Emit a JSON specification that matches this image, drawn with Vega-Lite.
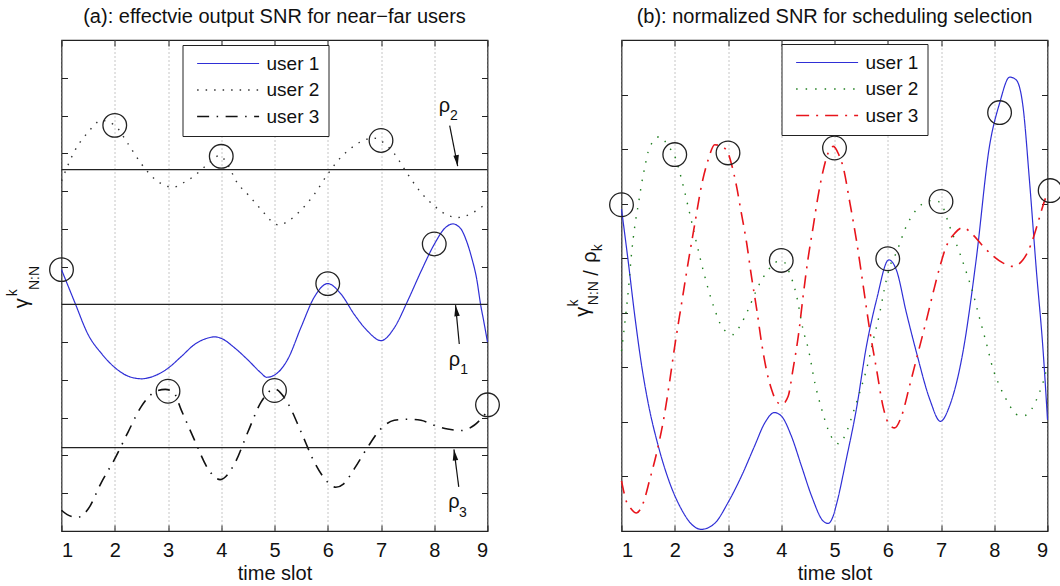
{
  "$schema": "https://vega.github.io/schema/vega-lite/v6.json",
  "padding": {"left": 4.5, "top": 5, "right": 4, "bottom": 0},
  "bounds": "flush",
  "spacing": 134,
  "config": {
    "font": "Liberation Sans",
    "view": {"stroke": "#222", "strokeWidth": 1.2},
    "title": {"font": "Liberation Sans", "fontSize": 20, "fontWeight": "normal", "color": "#111", "offset": 13},
    "axis": {"labelFont": "Liberation Sans", "titleFont": "Liberation Sans"},
    "legend": {"labelFont": "Liberation Sans"},
    "text": {"font": "Liberation Sans", "color": "#111"}
  },
  "datasets": {
    "snrA": [
      {"user": "user 1", "slot": 1, "snr": 6.92}, {"user": "user 1", "slot": 1.25, "snr": 6.05}, {"user": "user 1", "slot": 1.5, "snr": 5.2}, {"user": "user 1", "slot": 1.75, "snr": 4.7}, {"user": "user 1", "slot": 2, "snr": 4.33}, {"user": "user 1", "slot": 2.25, "snr": 4.1}, {"user": "user 1", "slot": 2.5, "snr": 4.03}, {"user": "user 1", "slot": 2.75, "snr": 4.11}, {"user": "user 1", "slot": 3, "snr": 4.31}, {"user": "user 1", "slot": 3.25, "snr": 4.62}, {"user": "user 1", "slot": 3.5, "snr": 4.94}, {"user": "user 1", "slot": 3.75, "snr": 5.11}, {"user": "user 1", "slot": 3.88, "snr": 5.14}, {"user": "user 1", "slot": 4, "snr": 5.1}, {"user": "user 1", "slot": 4.25, "snr": 4.85}, {"user": "user 1", "slot": 4.5, "snr": 4.53}, {"user": "user 1", "slot": 4.75, "snr": 4.18}, {"user": "user 1", "slot": 4.85, "snr": 4.07}, {"user": "user 1", "slot": 5, "snr": 4.13}, {"user": "user 1", "slot": 5.25, "snr": 4.55}, {"user": "user 1", "slot": 5.5, "snr": 5.4}, {"user": "user 1", "slot": 5.75, "snr": 6.2}, {"user": "user 1", "slot": 6, "snr": 6.55}, {"user": "user 1", "slot": 6.25, "snr": 6.27}, {"user": "user 1", "slot": 6.5, "snr": 5.73}, {"user": "user 1", "slot": 6.75, "snr": 5.29}, {"user": "user 1", "slot": 7, "snr": 5.04}, {"user": "user 1", "slot": 7.25, "snr": 5.38}, {"user": "user 1", "slot": 7.5, "snr": 6.09}, {"user": "user 1", "slot": 7.75, "snr": 6.87}, {"user": "user 1", "slot": 8, "snr": 7.59}, {"user": "user 1", "slot": 8.2, "snr": 8.02}, {"user": "user 1", "slot": 8.35, "snr": 8.13}, {"user": "user 1", "slot": 8.5, "snr": 8.0}, {"user": "user 1", "slot": 8.6, "snr": 7.7}, {"user": "user 1", "slot": 8.7, "snr": 7.25}, {"user": "user 1", "slot": 8.8, "snr": 6.65}, {"user": "user 1", "slot": 8.87, "snr": 6.0}, {"user": "user 1", "slot": 8.93, "snr": 5.55}, {"user": "user 1", "slot": 9, "snr": 5.0},
      {"user": "user 2", "slot": 1, "snr": 9.27}, {"user": "user 2", "slot": 1.25, "snr": 10.07}, {"user": "user 2", "slot": 1.5, "snr": 10.56}, {"user": "user 2", "slot": 1.75, "snr": 10.87}, {"user": "user 2", "slot": 2, "snr": 10.74}, {"user": "user 2", "slot": 2.25, "snr": 10.25}, {"user": "user 2", "slot": 2.5, "snr": 9.72}, {"user": "user 2", "slot": 2.75, "snr": 9.32}, {"user": "user 2", "slot": 3, "snr": 9.12}, {"user": "user 2", "slot": 3.1, "snr": 9.1}, {"user": "user 2", "slot": 3.25, "snr": 9.19}, {"user": "user 2", "slot": 3.5, "snr": 9.41}, {"user": "user 2", "slot": 3.75, "snr": 9.72}, {"user": "user 2", "slot": 3.97, "snr": 9.94}, {"user": "user 2", "slot": 4.1, "snr": 9.75}, {"user": "user 2", "slot": 4.3, "snr": 9.22}, {"user": "user 2", "slot": 4.5, "snr": 8.91}, {"user": "user 2", "slot": 4.75, "snr": 8.51}, {"user": "user 2", "slot": 5, "snr": 8.14}, {"user": "user 2", "slot": 5.08, "snr": 8.1}, {"user": "user 2", "slot": 5.25, "snr": 8.2}, {"user": "user 2", "slot": 5.5, "snr": 8.5}, {"user": "user 2", "slot": 5.75, "snr": 8.92}, {"user": "user 2", "slot": 6, "snr": 9.45}, {"user": "user 2", "slot": 6.25, "snr": 9.9}, {"user": "user 2", "slot": 6.5, "snr": 10.2}, {"user": "user 2", "slot": 6.75, "snr": 10.38}, {"user": "user 2", "slot": 6.88, "snr": 10.4}, {"user": "user 2", "slot": 7, "snr": 10.33}, {"user": "user 2", "slot": 7.25, "snr": 9.99}, {"user": "user 2", "slot": 7.5, "snr": 9.45}, {"user": "user 2", "slot": 7.75, "snr": 8.96}, {"user": "user 2", "slot": 8, "snr": 8.61}, {"user": "user 2", "slot": 8.25, "snr": 8.36}, {"user": "user 2", "slot": 8.45, "snr": 8.3}, {"user": "user 2", "slot": 8.75, "snr": 8.45}, {"user": "user 2", "slot": 9, "snr": 8.7},
      {"user": "user 3", "slot": 1, "snr": 0.55}, {"user": "user 3", "slot": 1.1, "snr": 0.44}, {"user": "user 3", "slot": 1.3, "snr": 0.36}, {"user": "user 3", "slot": 1.5, "snr": 0.58}, {"user": "user 3", "slot": 1.75, "snr": 1.29}, {"user": "user 3", "slot": 2, "snr": 1.91}, {"user": "user 3", "slot": 2.25, "snr": 2.62}, {"user": "user 3", "slot": 2.5, "snr": 3.3}, {"user": "user 3", "slot": 2.75, "snr": 3.68}, {"user": "user 3", "slot": 2.95, "snr": 3.75}, {"user": "user 3", "slot": 3.1, "snr": 3.68}, {"user": "user 3", "slot": 3.25, "snr": 3.2}, {"user": "user 3", "slot": 3.5, "snr": 2.4}, {"user": "user 3", "slot": 3.75, "snr": 1.65}, {"user": "user 3", "slot": 3.98, "snr": 1.36}, {"user": "user 3", "slot": 4.25, "snr": 1.78}, {"user": "user 3", "slot": 4.5, "snr": 2.62}, {"user": "user 3", "slot": 4.75, "snr": 3.42}, {"user": "user 3", "slot": 5, "snr": 3.76}, {"user": "user 3", "slot": 5.25, "snr": 3.38}, {"user": "user 3", "slot": 5.5, "snr": 2.62}, {"user": "user 3", "slot": 5.75, "snr": 1.82}, {"user": "user 3", "slot": 6, "snr": 1.29}, {"user": "user 3", "slot": 6.15, "snr": 1.16}, {"user": "user 3", "slot": 6.3, "snr": 1.25}, {"user": "user 3", "slot": 6.5, "snr": 1.65}, {"user": "user 3", "slot": 6.75, "snr": 2.22}, {"user": "user 3", "slot": 7, "snr": 2.71}, {"user": "user 3", "slot": 7.25, "snr": 2.93}, {"user": "user 3", "slot": 7.5, "snr": 2.96}, {"user": "user 3", "slot": 7.75, "snr": 2.93}, {"user": "user 3", "slot": 8, "snr": 2.8}, {"user": "user 3", "slot": 8.25, "snr": 2.7}, {"user": "user 3", "slot": 8.5, "snr": 2.66}, {"user": "user 3", "slot": 8.75, "snr": 2.8}, {"user": "user 3", "slot": 9, "snr": 3.17}
    ],
    "snrB": [
      {"user": "user 1", "slot": 1, "snr": 5.9}, {"user": "user 1", "slot": 1.13, "snr": 4.91}, {"user": "user 1", "slot": 1.25, "snr": 3.94}, {"user": "user 1", "slot": 1.38, "snr": 3.02}, {"user": "user 1", "slot": 1.5, "snr": 2.35}, {"user": "user 1", "slot": 1.69, "snr": 1.56}, {"user": "user 1", "slot": 1.88, "snr": 0.95}, {"user": "user 1", "slot": 2.13, "snr": 0.39}, {"user": "user 1", "slot": 2.32, "snr": 0.12}, {"user": "user 1", "slot": 2.5, "snr": 0.03}, {"user": "user 1", "slot": 2.75, "snr": 0.14}, {"user": "user 1", "slot": 3, "snr": 0.52}, {"user": "user 1", "slot": 3.25, "snr": 1.0}, {"user": "user 1", "slot": 3.5, "snr": 1.56}, {"user": "user 1", "slot": 3.69, "snr": 1.98}, {"user": "user 1", "slot": 3.87, "snr": 2.17}, {"user": "user 1", "slot": 4, "snr": 2.11}, {"user": "user 1", "slot": 4.19, "snr": 1.74}, {"user": "user 1", "slot": 4.38, "snr": 1.19}, {"user": "user 1", "slot": 4.57, "snr": 0.64}, {"user": "user 1", "slot": 4.79, "snr": 0.18}, {"user": "user 1", "slot": 4.88, "snr": 0.14}, {"user": "user 1", "slot": 4.97, "snr": 0.26}, {"user": "user 1", "slot": 5.04, "snr": 0.5}, {"user": "user 1", "slot": 5.22, "snr": 1.31}, {"user": "user 1", "slot": 5.41, "snr": 2.23}, {"user": "user 1", "slot": 5.6, "snr": 3.39}, {"user": "user 1", "slot": 5.79, "snr": 4.24}, {"user": "user 1", "slot": 6.02, "snr": 4.97}, {"user": "user 1", "slot": 6.16, "snr": 4.79}, {"user": "user 1", "slot": 6.35, "snr": 4.0}, {"user": "user 1", "slot": 6.54, "snr": 3.27}, {"user": "user 1", "slot": 6.79, "snr": 2.41}, {"user": "user 1", "slot": 6.99, "snr": 2.01}, {"user": "user 1", "slot": 7.16, "snr": 2.29}, {"user": "user 1", "slot": 7.41, "snr": 3.27}, {"user": "user 1", "slot": 7.66, "snr": 4.97}, {"user": "user 1", "slot": 7.91, "snr": 7.05}, {"user": "user 1", "slot": 8.1, "snr": 7.84}, {"user": "user 1", "slot": 8.29, "snr": 8.32}, {"user": "user 1", "slot": 8.41, "snr": 8.27}, {"user": "user 1", "slot": 8.54, "snr": 7.78}, {"user": "user 1", "slot": 8.66, "snr": 6.44}, {"user": "user 1", "slot": 8.79, "snr": 4.79}, {"user": "user 1", "slot": 8.92, "snr": 3.27}, {"user": "user 1", "slot": 9, "snr": 2.04},
      {"user": "user 2", "slot": 1, "snr": 3.3}, {"user": "user 2", "slot": 1.07, "snr": 3.88}, {"user": "user 2", "slot": 1.13, "snr": 4.43}, {"user": "user 2", "slot": 1.19, "snr": 5.1}, {"user": "user 2", "slot": 1.25, "snr": 5.59}, {"user": "user 2", "slot": 1.32, "snr": 6.01}, {"user": "user 2", "slot": 1.38, "snr": 6.38}, {"user": "user 2", "slot": 1.44, "snr": 6.68}, {"user": "user 2", "slot": 1.5, "snr": 6.95}, {"user": "user 2", "slot": 1.6, "snr": 7.15}, {"user": "user 2", "slot": 1.72, "snr": 7.23}, {"user": "user 2", "slot": 1.88, "snr": 7.05}, {"user": "user 2", "slot": 2, "snr": 6.87}, {"user": "user 2", "slot": 2.13, "snr": 6.44}, {"user": "user 2", "slot": 2.25, "snr": 5.95}, {"user": "user 2", "slot": 2.38, "snr": 5.4}, {"user": "user 2", "slot": 2.5, "snr": 4.91}, {"user": "user 2", "slot": 2.63, "snr": 4.43}, {"user": "user 2", "slot": 2.75, "snr": 4.06}, {"user": "user 2", "slot": 2.88, "snr": 3.75}, {"user": "user 2", "slot": 3, "snr": 3.63}, {"user": "user 2", "slot": 3.1, "snr": 3.6}, {"user": "user 2", "slot": 3.22, "snr": 3.75}, {"user": "user 2", "slot": 3.38, "snr": 4.06}, {"user": "user 2", "slot": 3.57, "snr": 4.49}, {"user": "user 2", "slot": 3.76, "snr": 4.79}, {"user": "user 2", "slot": 3.94, "snr": 4.94}, {"user": "user 2", "slot": 4.04, "snr": 4.94}, {"user": "user 2", "slot": 4.13, "snr": 4.79}, {"user": "user 2", "slot": 4.29, "snr": 4.3}, {"user": "user 2", "slot": 4.41, "snr": 3.69}, {"user": "user 2", "slot": 4.51, "snr": 3.33}, {"user": "user 2", "slot": 4.63, "snr": 2.72}, {"user": "user 2", "slot": 4.76, "snr": 2.23}, {"user": "user 2", "slot": 4.88, "snr": 1.86}, {"user": "user 2", "slot": 4.97, "snr": 1.68}, {"user": "user 2", "slot": 5.08, "snr": 1.6}, {"user": "user 2", "slot": 5.22, "snr": 1.8}, {"user": "user 2", "slot": 5.35, "snr": 2.17}, {"user": "user 2", "slot": 5.47, "snr": 2.53}, {"user": "user 2", "slot": 5.6, "snr": 2.96}, {"user": "user 2", "slot": 5.73, "snr": 3.51}, {"user": "user 2", "slot": 5.85, "snr": 4.0}, {"user": "user 2", "slot": 5.94, "snr": 4.45}, {"user": "user 2", "slot": 6.04, "snr": 4.85}, {"user": "user 2", "slot": 6.16, "snr": 5.1}, {"user": "user 2", "slot": 6.35, "snr": 5.59}, {"user": "user 2", "slot": 6.54, "snr": 5.89}, {"user": "user 2", "slot": 6.73, "snr": 6.04}, {"user": "user 2", "slot": 6.88, "snr": 6.06}, {"user": "user 2", "slot": 7, "snr": 6.0}, {"user": "user 2", "slot": 7.16, "snr": 5.59}, {"user": "user 2", "slot": 7.35, "snr": 5.1}, {"user": "user 2", "slot": 7.48, "snr": 4.73}, {"user": "user 2", "slot": 7.6, "snr": 4.36}, {"user": "user 2", "slot": 7.73, "snr": 3.88}, {"user": "user 2", "slot": 7.85, "snr": 3.45}, {"user": "user 2", "slot": 7.98, "snr": 2.96}, {"user": "user 2", "slot": 8.1, "snr": 2.66}, {"user": "user 2", "slot": 8.26, "snr": 2.35}, {"user": "user 2", "slot": 8.41, "snr": 2.14}, {"user": "user 2", "slot": 8.54, "snr": 2.11}, {"user": "user 2", "slot": 8.7, "snr": 2.23}, {"user": "user 2", "slot": 8.82, "snr": 2.47}, {"user": "user 2", "slot": 8.95, "snr": 2.84}, {"user": "user 2", "slot": 9, "snr": 3.05},
      {"user": "user 3", "slot": 1, "snr": 0.92}, {"user": "user 3", "slot": 1.1, "snr": 0.52}, {"user": "user 3", "slot": 1.16, "snr": 0.43}, {"user": "user 3", "slot": 1.28, "snr": 0.33}, {"user": "user 3", "slot": 1.41, "snr": 0.52}, {"user": "user 3", "slot": 1.53, "snr": 0.94}, {"user": "user 3", "slot": 1.66, "snr": 1.43}, {"user": "user 3", "slot": 1.79, "snr": 2.04}, {"user": "user 3", "slot": 1.91, "snr": 2.78}, {"user": "user 3", "slot": 2, "snr": 3.39}, {"user": "user 3", "slot": 2.13, "snr": 4.18}, {"user": "user 3", "slot": 2.25, "snr": 4.91}, {"user": "user 3", "slot": 2.38, "snr": 5.65}, {"user": "user 3", "slot": 2.5, "snr": 6.32}, {"user": "user 3", "slot": 2.63, "snr": 6.81}, {"user": "user 3", "slot": 2.75, "snr": 7.08}, {"user": "user 3", "slot": 2.88, "snr": 7.05}, {"user": "user 3", "slot": 3, "snr": 6.93}, {"user": "user 3", "slot": 3.07, "snr": 6.71}, {"user": "user 3", "slot": 3.16, "snr": 6.32}, {"user": "user 3", "slot": 3.25, "snr": 5.83}, {"user": "user 3", "slot": 3.35, "snr": 5.28}, {"user": "user 3", "slot": 3.44, "snr": 4.67}, {"user": "user 3", "slot": 3.54, "snr": 4.06}, {"user": "user 3", "slot": 3.63, "snr": 3.45}, {"user": "user 3", "slot": 3.72, "snr": 2.96}, {"user": "user 3", "slot": 3.82, "snr": 2.59}, {"user": "user 3", "slot": 3.91, "snr": 2.38}, {"user": "user 3", "slot": 4.01, "snr": 2.32}, {"user": "user 3", "slot": 4.13, "snr": 2.47}, {"user": "user 3", "slot": 4.22, "snr": 2.96}, {"user": "user 3", "slot": 4.32, "snr": 3.57}, {"user": "user 3", "slot": 4.41, "snr": 4.3}, {"user": "user 3", "slot": 4.5, "snr": 4.97}, {"user": "user 3", "slot": 4.6, "snr": 5.58}, {"user": "user 3", "slot": 4.69, "snr": 6.13}, {"user": "user 3", "slot": 4.79, "snr": 6.62}, {"user": "user 3", "slot": 4.88, "snr": 6.93}, {"user": "user 3", "slot": 4.98, "snr": 7.05}, {"user": "user 3", "slot": 5.08, "snr": 6.9}, {"user": "user 3", "slot": 5.16, "snr": 6.68}, {"user": "user 3", "slot": 5.29, "snr": 6.01}, {"user": "user 3", "slot": 5.41, "snr": 5.34}, {"user": "user 3", "slot": 5.54, "snr": 4.49}, {"user": "user 3", "slot": 5.66, "snr": 3.69}, {"user": "user 3", "slot": 5.79, "snr": 2.96}, {"user": "user 3", "slot": 5.91, "snr": 2.29}, {"user": "user 3", "slot": 6.01, "snr": 1.98}, {"user": "user 3", "slot": 6.13, "snr": 1.89}, {"user": "user 3", "slot": 6.26, "snr": 2.11}, {"user": "user 3", "slot": 6.41, "snr": 2.66}, {"user": "user 3", "slot": 6.57, "snr": 3.27}, {"user": "user 3", "slot": 6.73, "snr": 3.88}, {"user": "user 3", "slot": 6.85, "snr": 4.36}, {"user": "user 3", "slot": 6.98, "snr": 4.85}, {"user": "user 3", "slot": 7.1, "snr": 5.22}, {"user": "user 3", "slot": 7.26, "snr": 5.46}, {"user": "user 3", "slot": 7.41, "snr": 5.56}, {"user": "user 3", "slot": 7.6, "snr": 5.43}, {"user": "user 3", "slot": 7.79, "snr": 5.22}, {"user": "user 3", "slot": 7.98, "snr": 5.04}, {"user": "user 3", "slot": 8.17, "snr": 4.91}, {"user": "user 3", "slot": 8.35, "snr": 4.85}, {"user": "user 3", "slot": 8.54, "snr": 4.97}, {"user": "user 3", "slot": 8.7, "snr": 5.28}, {"user": "user 3", "slot": 8.82, "snr": 5.65}, {"user": "user 3", "slot": 8.91, "snr": 5.95}, {"user": "user 3", "slot": 9, "snr": 6.2}
    ],
    "rhoA": [{"rho": "ρ1", "level": 6.0}, {"rho": "ρ2", "level": 9.57}, {"rho": "ρ3", "level": 2.21}],
    "pickA": [{"slot": 1, "snr": 6.92}, {"slot": 2, "snr": 10.74}, {"slot": 3, "snr": 3.7}, {"slot": 4, "snr": 9.92}, {"slot": 5, "snr": 3.72}, {"slot": 6, "snr": 6.55}, {"slot": 7, "snr": 10.34}, {"slot": 8, "snr": 7.6}, {"slot": 9, "snr": 3.34}],
    "pickB": [{"slot": 1, "snr": 5.98}, {"slot": 2, "snr": 6.9}, {"slot": 3, "snr": 6.93}, {"slot": 4, "snr": 4.96}, {"slot": 5, "snr": 7.02}, {"slot": 6, "snr": 4.99}, {"slot": 7, "snr": 6.04}, {"slot": 8.1, "snr": 7.67}, {"slot": 9.05, "snr": 6.24}],
    "arrowsA": [
      {"rho": "ρ2", "way": "down", "slot": 8.29, "snr": 10.73, "slot2": 8.44, "snr2": 9.66},
      {"rho": "ρ1", "way": "up", "slot": 8.47, "snr": 4.95, "slot2": 8.4, "snr2": 5.98},
      {"rho": "ρ3", "way": "up", "slot": 8.46, "snr": 1.17, "slot2": 8.37, "snr2": 2.16}
    ],
    "notesA": [
      {"role": "rho", "text": "ρ", "slot": 8.19, "snr": 11.26},
      {"role": "rho", "text": "ρ", "slot": 8.38, "snr": 4.52},
      {"role": "rho", "text": "ρ", "slot": 8.37, "snr": 0.76},
      {"role": "sub", "text": "2", "slot": 8.37, "snr": 10.98},
      {"role": "sub", "text": "1", "slot": 8.56, "snr": 4.25},
      {"role": "sub", "text": "3", "slot": 8.54, "snr": 0.48},
      {"role": "label", "text": "γ", "slot": 0.26, "snr": 6.03},
      {"role": "script", "text": "k", "slot": 0.086, "snr": 6.31},
      {"role": "script", "text": "N:N", "slot": 0.493, "snr": 6.7}
    ],
    "notesB": [
      {"role": "label", "text": "γ", "slot": 0.28, "snr": 4.02},
      {"role": "script", "text": "k", "slot": 0.109, "snr": 4.18},
      {"role": "script", "text": "N:N", "slot": 0.484, "snr": 4.36},
      {"role": "label", "text": "/", "slot": 0.441, "snr": 4.73},
      {"role": "label", "text": "ρ", "slot": 0.4, "snr": 5.02},
      {"role": "script", "text": "k", "slot": 0.559, "snr": 5.19}
    ]
  },
  "resolve": {"scale": {"x": "independent", "y": "independent", "color": "independent", "strokeDash": "independent", "strokeWidth": "independent", "shape": "independent"}},
  "hconcat": [
    {
      "width": 426,
      "height": 491,
      "title": {"text": "(a): effectvie output SNR for near−far users"},
      "resolve": {"axis": {"x": "independent", "y": "independent"}},
      "layer": [
        {
          "data": {"name": "snrA"},
          "mark": {"type": "line", "interpolate": "monotone"},
          "encoding": {
            "x": {"field": "slot", "type": "quantitative", "scale": {"domain": [1, 9], "nice": false, "zero": false},
              "axis": {"orient": "bottom", "values": [1, 2, 3, 4, 5, 6, 7, 8, 9], "format": "d", "labelFontSize": 20, "labelColor": "#111", "labelPadding": 15, "tickSize": -6, "tickColor": "#222", "domain": false, "grid": true, "gridDash": [1, 3], "gridColor": "#8c8c8c", "title": "time slot", "titleFontSize": 20, "titleFontWeight": "normal", "titleColor": "#111", "titlePadding": 3}},
            "y": {"field": "snr", "type": "quantitative", "scale": {"domain": [0, 13], "nice": false, "zero": false},
              "axis": {"orient": "left", "values": [1, 2, 3, 4, 5, 6, 7, 8, 9, 10, 11, 12], "labels": false, "tickSize": -6, "tickColor": "#222", "domain": false, "grid": false, "title": null}},
            "color": {"field": "user", "type": "nominal", "scale": {"domain": ["user 1", "user 2", "user 3"], "range": ["#2f2fd6", "#333333", "#111111"]},
              "legend": {"orient": "none", "legendX": 121, "legendY": 5, "title": null, "symbolType": "M-0.5,0H7.5", "symbolSize": 240, "labelOffset": 56, "labelFontSize": 19, "labelColor": "#111", "padding": 9, "rowPadding": 6.5, "fillColor": "#ffffff", "strokeColor": "#222"}},
            "strokeDash": {"field": "user", "type": "nominal", "scale": {"domain": ["user 1", "user 2", "user 3"], "range": [[1, 0], [1.5, 7], [12, 7.5, 1.5, 7.5]]},
              "legend": {"orient": "none", "legendX": 121, "legendY": 5, "title": null, "symbolType": "M-0.5,0H7.5", "symbolSize": 240, "labelOffset": 56, "labelFontSize": 19, "labelColor": "#111", "padding": 9, "rowPadding": 6.5, "fillColor": "#ffffff", "strokeColor": "#222"}},
            "strokeWidth": {"field": "user", "type": "ordinal", "scale": {"domain": ["user 1", "user 2", "user 3"], "range": [1.2, 1.6, 2]},
              "legend": {"orient": "none", "legendX": 121, "legendY": 5, "title": null, "symbolType": "M-0.5,0H7.5", "symbolSize": 240, "labelOffset": 56, "labelFontSize": 19, "labelColor": "#111", "padding": 9, "rowPadding": 6.5, "fillColor": "#ffffff", "strokeColor": "#222"}}
          }
        },
        {
          "data": {"name": "rhoA"},
          "mark": {"type": "rule", "color": "#222", "strokeWidth": 1.2},
          "encoding": {
            "y": {"field": "level", "type": "quantitative", "scale": {"domain": [0, 13], "nice": false, "zero": false}, "axis": null}
          }
        },
        {
          "data": {"name": "pickA"},
          "mark": {"type": "point", "shape": "circle", "filled": false, "size": 560, "color": "#222", "strokeWidth": 1.3, "opacity": 1},
          "encoding": {
            "x": {"field": "slot", "type": "quantitative", "scale": {"domain": [1, 9], "nice": false, "zero": false},
              "axis": {"orient": "top", "values": [1, 2, 3, 4, 5, 6, 7, 8, 9], "labels": false, "tickSize": -6, "tickColor": "#222", "domain": false, "grid": false, "title": null}},
            "y": {"field": "snr", "type": "quantitative", "scale": {"domain": [0, 13], "nice": false, "zero": false},
              "axis": {"orient": "right", "values": [1, 2, 3, 4, 5, 6, 7, 8, 9, 10, 11, 12], "labels": false, "tickSize": -6, "tickColor": "#222", "domain": false, "grid": false, "title": null}}
          }
        },
        {
          "data": {"name": "arrowsA"},
          "mark": {"type": "rule", "color": "#111", "strokeWidth": 1.2},
          "encoding": {
            "x": {"field": "slot", "type": "quantitative", "scale": {"domain": [1, 9], "nice": false, "zero": false}, "axis": null},
            "y": {"field": "snr", "type": "quantitative", "scale": {"domain": [0, 13], "nice": false, "zero": false}, "axis": null},
            "x2": {"field": "slot2"},
            "y2": {"field": "snr2"}
          }
        },
        {
          "data": {"name": "arrowsA"},
          "mark": {"type": "point", "filled": true, "color": "#111", "size": 121, "angle": -8, "opacity": 1},
          "encoding": {
            "x": {"field": "slot2", "type": "quantitative", "scale": {"domain": [1, 9], "nice": false, "zero": false}, "axis": null},
            "y": {"field": "snr2", "type": "quantitative", "scale": {"domain": [0, 13], "nice": false, "zero": false}, "axis": null},
            "shape": {"field": "way", "type": "nominal", "scale": {"domain": ["down", "up"], "range": ["M-0.5,-2L0.5,-2L0,0Z", "M-0.5,2L0.5,2L0,0Z"]}, "legend": null}
          }
        },
        {
          "data": {"name": "notesA"},
          "transform": [{"filter": "datum.role === 'rho'"}],
          "mark": {"type": "text", "fontSize": 20, "align": "center", "baseline": "middle"},
          "encoding": {
            "x": {"field": "slot", "type": "quantitative", "scale": {"domain": [1, 9], "nice": false, "zero": false}, "axis": null},
            "y": {"field": "snr", "type": "quantitative", "scale": {"domain": [0, 13], "nice": false, "zero": false}, "axis": null},
            "text": {"field": "text"}
          }
        },
        {
          "data": {"name": "notesA"},
          "transform": [{"filter": "datum.role === 'sub'"}],
          "mark": {"type": "text", "fontSize": 14, "align": "center", "baseline": "middle"},
          "encoding": {
            "x": {"field": "slot", "type": "quantitative", "scale": {"domain": [1, 9], "nice": false, "zero": false}, "axis": null},
            "y": {"field": "snr", "type": "quantitative", "scale": {"domain": [0, 13], "nice": false, "zero": false}, "axis": null},
            "text": {"field": "text"}
          }
        },
        {
          "data": {"name": "notesA"},
          "transform": [{"filter": "datum.role === 'label'"}],
          "mark": {"type": "text", "fontSize": 20, "angle": 270, "align": "center", "baseline": "middle"},
          "encoding": {
            "x": {"field": "slot", "type": "quantitative", "scale": {"domain": [1, 9], "nice": false, "zero": false}, "axis": null},
            "y": {"field": "snr", "type": "quantitative", "scale": {"domain": [0, 13], "nice": false, "zero": false}, "axis": null},
            "text": {"field": "text"}
          }
        },
        {
          "data": {"name": "notesA"},
          "transform": [{"filter": "datum.role === 'script'"}],
          "mark": {"type": "text", "fontSize": 14, "angle": 270, "align": "center", "baseline": "middle"},
          "encoding": {
            "x": {"field": "slot", "type": "quantitative", "scale": {"domain": [1, 9], "nice": false, "zero": false}, "axis": null},
            "y": {"field": "snr", "type": "quantitative", "scale": {"domain": [0, 13], "nice": false, "zero": false}, "axis": null},
            "text": {"field": "text"}
          }
        }
      ]
    },
    {
      "width": 426,
      "height": 491,
      "title": {"text": "(b): normalized SNR for scheduling selection"},
      "resolve": {"axis": {"x": "independent", "y": "independent"}},
      "layer": [
        {
          "data": {"name": "snrB"},
          "mark": {"type": "line", "interpolate": "monotone"},
          "encoding": {
            "x": {"field": "slot", "type": "quantitative", "scale": {"domain": [1, 9], "nice": false, "zero": false},
              "axis": {"orient": "bottom", "values": [1, 2, 3, 4, 5, 6, 7, 8, 9], "format": "d", "labelFontSize": 20, "labelColor": "#111", "labelPadding": 15, "tickSize": -6, "tickColor": "#222", "domain": false, "grid": true, "gridDash": [1, 3], "gridColor": "#8c8c8c", "title": "time slot", "titleFontSize": 20, "titleFontWeight": "normal", "titleColor": "#111", "titlePadding": 3}},
            "y": {"field": "snr", "type": "quantitative", "scale": {"domain": [0, 9], "nice": false, "zero": false},
              "axis": {"orient": "left", "values": [1, 2, 3, 4, 5, 6, 7, 8], "labels": false, "tickSize": -6, "tickColor": "#222", "domain": false, "grid": false, "title": null}},
            "color": {"field": "user", "type": "nominal", "scale": {"domain": ["user 1", "user 2", "user 3"], "range": ["#2f2fd6", "#1f7f1f", "#e8141b"]},
              "legend": {"orient": "none", "legendX": 160, "legendY": 4, "title": null, "symbolType": "M-0.5,0H7.5", "symbolSize": 240, "labelOffset": 56, "labelFontSize": 19, "labelColor": "#111", "padding": 9, "rowPadding": 6.5, "fillColor": "#ffffff", "strokeColor": "#222"}},
            "strokeDash": {"field": "user", "type": "nominal", "scale": {"domain": ["user 1", "user 2", "user 3"], "range": [[1, 0], [1.5, 8], [13, 7, 2, 7]]},
              "legend": {"orient": "none", "legendX": 160, "legendY": 4, "title": null, "symbolType": "M-0.5,0H7.5", "symbolSize": 240, "labelOffset": 56, "labelFontSize": 19, "labelColor": "#111", "padding": 9, "rowPadding": 6.5, "fillColor": "#ffffff", "strokeColor": "#222"}},
            "strokeWidth": {"field": "user", "type": "ordinal", "scale": {"domain": ["user 1", "user 2", "user 3"], "range": [1.2, 1.6, 2.4]},
              "legend": {"orient": "none", "legendX": 160, "legendY": 4, "title": null, "symbolType": "M-0.5,0H7.5", "symbolSize": 240, "labelOffset": 56, "labelFontSize": 19, "labelColor": "#111", "padding": 9, "rowPadding": 6.5, "fillColor": "#ffffff", "strokeColor": "#222"}}
          }
        },
        {
          "data": {"name": "pickB"},
          "mark": {"type": "point", "shape": "circle", "filled": false, "size": 560, "color": "#222", "strokeWidth": 1.3, "opacity": 1},
          "encoding": {
            "x": {"field": "slot", "type": "quantitative", "scale": {"domain": [1, 9], "nice": false, "zero": false},
              "axis": {"orient": "top", "values": [1, 2, 3, 4, 5, 6, 7, 8, 9], "labels": false, "tickSize": -6, "tickColor": "#222", "domain": false, "grid": false, "title": null}},
            "y": {"field": "snr", "type": "quantitative", "scale": {"domain": [0, 9], "nice": false, "zero": false},
              "axis": {"orient": "right", "values": [1, 2, 3, 4, 5, 6, 7, 8], "labels": false, "tickSize": -6, "tickColor": "#222", "domain": false, "grid": false, "title": null}}
          }
        },
        {
          "data": {"name": "notesB"},
          "transform": [{"filter": "datum.role === 'label'"}],
          "mark": {"type": "text", "fontSize": 20, "angle": 270, "align": "center", "baseline": "middle"},
          "encoding": {
            "x": {"field": "slot", "type": "quantitative", "scale": {"domain": [1, 9], "nice": false, "zero": false}, "axis": null},
            "y": {"field": "snr", "type": "quantitative", "scale": {"domain": [0, 9], "nice": false, "zero": false}, "axis": null},
            "text": {"field": "text"}
          }
        },
        {
          "data": {"name": "notesB"},
          "transform": [{"filter": "datum.role === 'script'"}],
          "mark": {"type": "text", "fontSize": 14, "angle": 270, "align": "center", "baseline": "middle"},
          "encoding": {
            "x": {"field": "slot", "type": "quantitative", "scale": {"domain": [1, 9], "nice": false, "zero": false}, "axis": null},
            "y": {"field": "snr", "type": "quantitative", "scale": {"domain": [0, 9], "nice": false, "zero": false}, "axis": null},
            "text": {"field": "text"}
          }
        }
      ]
    }
  ]
}
